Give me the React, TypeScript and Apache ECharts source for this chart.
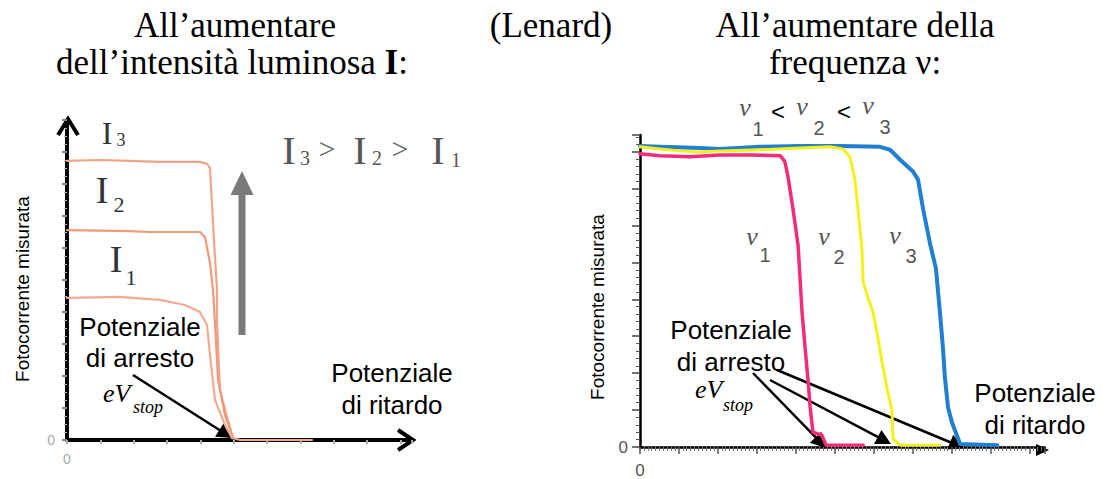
import React, { useEffect, useRef } from 'react';
import * as echarts from 'echarts';

// ---- Left panel data (retarding potential vs photocurrent, varying intensity) ----
const curveI3: number[][] = [
  [0, 8.72], [0.99, 8.75], [1.89, 8.72], [2.79, 8.69], [3.99, 8.69], [4.2, 8.63], [4.29, 8.5],
  [4.38, 6.78], [4.44, 5.72], [4.5, 4.69], [4.5, 3.66], [4.59, 1.56], [4.8, 0.72], [4.98, 0.06],
  [5.19, 0], [7.35, 0],
];
const curveI2: number[][] = [
  [0, 6.56], [1.89, 6.53], [2.49, 6.5], [3.99, 6.5], [4.14, 6.34], [4.29, 5.53], [4.38, 4.69],
  [4.44, 3.66], [4.53, 1.88], [4.74, 0.78], [4.98, 0.06],
];
const curveI1: number[][] = [
  [0, 4.44], [1.59, 4.47], [2.79, 4.38], [3.54, 4.22], [3.99, 4.0], [4.2, 3.59], [4.29, 2.66],
  [4.44, 1.25], [4.74, 0.47], [4.95, 0.06],
];

// ---- Right panel data (varying frequency) ----
const curveNu1: number[][] = [
  [0, 7.94], [0.51, 7.89], [1.28, 7.86], [2.05, 7.91], [2.82, 7.91], [3.6, 7.89], [3.72, 7.73],
  [3.8, 7.32], [3.93, 6.44], [4.06, 5.45], [4.16, 3.67], [4.24, 2.68], [4.31, 1.88], [4.37, 1.07],
  [4.44, 0.4], [4.67, 0.32], [4.78, 0.05], [5.73, 0.05],
];
const curveNu2: number[][] = [
  [0, 8.13], [0.51, 8.07], [1.03, 8.02], [1.54, 7.99], [2.05, 8.02], [3.08, 8.05], [4.11, 8.1],
  [4.88, 8.13], [5.21, 8.07], [5.39, 7.86], [5.52, 7.24], [5.6, 6.44], [5.7, 5.36], [5.73, 4.48],
  [5.86, 4.02], [5.98, 3.67], [6.11, 2.95], [6.21, 2.33], [6.34, 1.61], [6.47, 0.99], [6.5, 0.21],
  [6.68, 0.05], [7.7, 0.05],
];
const curveNu3: number[][] = [
  [0, 8.15], [0.51, 8.13], [1.54, 8.1], [2.05, 8.07], [3.08, 8.13], [4.11, 8.15], [5.14, 8.15],
  [6.16, 8.13], [6.42, 8.05], [6.68, 7.78], [7.01, 7.46], [7.14, 7.24], [7.27, 6.44], [7.45, 5.5],
  [7.6, 4.83], [7.7, 3.67], [7.78, 2.68], [7.83, 1.88], [7.91, 1.07], [8.01, 0.67], [8.22, 0.08],
  [9.17, 0.05],
];

const titleLeft1 = "All\u2019aumentare";
const titleLeft2a = "dell\u2019intensità luminosa ";
const titleLeft2b = "I";
const titleCenter = "(Lenard)";
const titleRight1 = "All\u2019aumentare della";
const titleRight2 = "frequenza \u03bd:";
const yTitle = "Fotocorrente misurata";

const SERIF = '"Liberation Serif", "Times New Roman", serif';
const SANS = '"Liberation Sans", Arial, sans-serif';

function arrowHead(x1: number, y1: number, x2: number, y2: number, len: number, hw: number) {
  const dx = x2 - x1, dy = y2 - y1;
  const d = Math.hypot(dx, dy);
  const ux = dx / d, uy = dy / d;
  const bx = x2 - ux * len, by = y2 - uy * len;
  return [[x2, y2], [bx - uy * hw, by + ux * hw], [bx + uy * hw, by - ux * hw]];
}

function arrow(x1: number, y1: number, x2: number, y2: number, w = 2.5, len = 15, hw = 8) {
  const head = arrowHead(x1, y1, x2, y2, len, hw);
  const d = Math.hypot(x2 - x1, y2 - y1);
  const ex = x2 - ((x2 - x1) / d) * (len - 2);
  const ey = y2 - ((y2 - y1) / d) * (len - 2);
  return [
    { type: 'line', shape: { x1, y1, x2: ex, y2: ey }, style: { stroke: '#000', lineWidth: w } },
    { type: 'polygon', shape: { points: head }, style: { fill: '#000' } },
  ];
}

function txt(text: string, x: number, y: number, font: string, fill = '#000', align = 'center', rotation = 0) {
  return {
    type: 'text', x, y, rotation,
    style: { text, font, fill, align, verticalAlign: 'middle' },
  };
}

export default function App() {
  const ref = useRef<HTMLDivElement>(null);
  useEffect(() => {
    if (!ref.current) return;
    const chart = echarts.init(ref.current, undefined, { renderer: 'svg' });

    const zeroOnly = (v: number) => (v === 0 ? '0' : '');

    const graphic: any[] = [
      // titles
      txt(titleLeft1, 235, 25, `35px ${SERIF}`),
      {
        type: 'text', x: 232, y: 62,
        style: {
          text: `{a|${titleLeft2a}}{b|${titleLeft2b}}{a|:}`,
          align: 'center', verticalAlign: 'middle',
          rich: {
            a: { font: `35px ${SERIF}`, fill: '#000' },
            b: { font: `bold 35px ${SERIF}`, fill: '#000' },
          },
        },
      },
      txt(titleCenter, 551, 25, `35px ${SERIF}`),
      txt(titleRight1, 855, 25, `35px ${SERIF}`),
      txt(titleRight2, 855, 62, `35px ${SERIF}`),

      // y titles
      txt(yTitle, 22, 289, `19px ${SANS}`, '#000', 'center', Math.PI / 2),
      txt(yTitle, 597, 307, `19px ${SANS}`, '#000', 'center', Math.PI / 2),

      // left panel axis chevrons
      { type: 'polyline', shape: { points: [[58, 135], [68, 119], [78, 135]] }, style: { stroke: '#000', lineWidth: 4, fill: 'none' } },
      { type: 'polyline', shape: { points: [[398, 430], [413, 440], [398, 450]] }, style: { stroke: '#000', lineWidth: 4, fill: 'none' } },
      // right panel x arrow
      { type: 'polygon', shape: { points: [[1049, 450], [1036, 444], [1036, 456]] }, style: { fill: '#000' } },

      // left labels I
      txt('I', 107, 133, `32px ${SERIF}`, '#333'),
      txt('3', 121, 140, `18px ${SERIF}`, '#333'),
      txt('I', 102, 190, `38px ${SERIF}`, '#333'),
      txt('2', 119, 204, `22px ${SERIF}`, '#333'),
      txt('I', 116, 259, `38px ${SERIF}`, '#333'),
      txt('1', 131, 277, `22px ${SERIF}`, '#333'),

      // I3 > I2 > I1
      txt('I', 289, 150, `40px ${SERIF}`, '#555'),
      txt('3', 305, 158, `20px ${SERIF}`, '#555'),
      txt('>', 327, 148, `30px ${SERIF}`, '#666'),
      txt('I', 360, 150, `40px ${SERIF}`, '#555'),
      txt('2', 377, 158, `20px ${SERIF}`, '#555'),
      txt('>', 400, 148, `30px ${SERIF}`, '#666'),
      txt('I', 438, 150, `40px ${SERIF}`, '#555'),
      txt('1', 456, 160, `20px ${SERIF}`, '#555'),

      // big gray arrow
      { type: 'rect', shape: { x: 238.5, y: 192, width: 7, height: 143 }, style: { fill: '#7a7a7a' } },
      { type: 'polygon', shape: { points: [[242, 171], [230.5, 195], [253.5, 195]] }, style: { fill: '#7a7a7a' } },

      // left annotations
      txt('Potenziale', 140, 327, `26px ${SANS}`),
      txt('di arresto', 140, 358, `26px ${SANS}`),
      txt('eV', 103, 393, `italic 26px ${SERIF}`, '#000', 'left'),
      txt('stop', 133, 407, `italic 18px ${SERIF}`, '#000', 'left'),
      ...arrow(133, 375, 232, 438),
      txt('Potenziale', 392, 373, `26px ${SANS}`),
      txt('di ritardo', 392, 405, `26px ${SANS}`),

      // right: nu ordering
      txt('\u03bd', 745, 107, `italic 26px ${SERIF}`, '#555'),
      txt('1', 758, 129, `20px ${SANS}`, '#555'),
      txt('<', 778, 111, `24px ${SANS}`, '#000'),
      txt('\u03bd', 802, 106, `italic 26px ${SERIF}`, '#555'),
      txt('2', 819, 128, `20px ${SANS}`, '#555'),
      txt('<', 844, 111, `24px ${SANS}`, '#000'),
      txt('\u03bd', 868, 105, `italic 26px ${SERIF}`, '#555'),
      txt('3', 885, 127, `20px ${SANS}`, '#555'),

      // right: curve labels
      txt('\u03bd', 752, 236, `italic 26px ${SERIF}`, '#555'),
      txt('1', 765, 255, `20px ${SANS}`, '#555'),
      txt('\u03bd', 824, 236, `italic 26px ${SERIF}`, '#555'),
      txt('2', 839, 257, `20px ${SANS}`, '#555'),
      txt('\u03bd', 895, 235, `italic 26px ${SERIF}`, '#555'),
      txt('3', 911, 256, `20px ${SANS}`, '#555'),

      // right annotations
      txt('Potenziale', 731, 330, `26px ${SANS}`),
      txt('di arresto', 731, 362, `26px ${SANS}`),
      txt('eV', 695, 389, `italic 26px ${SERIF}`, '#000', 'left'),
      txt('stop', 723, 405, `italic 18px ${SERIF}`, '#000', 'left'),
      ...arrow(753, 373, 826, 448),
      ...arrow(770, 380, 891, 444),
      ...arrow(777, 370, 964, 448),
      txt('Potenziale', 1035, 393, `26px ${SANS}`),
      txt('di ritardo', 1035, 425, `26px ${SANS}`),
    ];

    const lineSeries = (data: number[][], idx: number, color: string, width: number) => ({
      type: 'line', xAxisIndex: idx, yAxisIndex: idx, data, showSymbol: false, symbol: 'none',
      lineStyle: { color, width, join: 'round', cap: 'round' }, smooth: false, silent: true, clip: false,
    });

    chart.setOption({
      animation: false,
      backgroundColor: '#fff',
      grid: [
        { left: 67, top: 120, width: 345, height: 320 },
        { left: 640, top: 135, width: 405, height: 315 },
      ],
      xAxis: [
        {
          gridIndex: 0, type: 'value', min: 0, max: 10.35, interval: 1,
          axisLine: { show: true, lineStyle: { color: '#000', width: 4 } },
          axisTick: { show: true, length: 4, lineStyle: { color: '#aaa', width: 2 } },
          axisLabel: { formatter: zeroOnly, color: '#aaa', fontSize: 14, margin: 12, fontFamily: SANS },
          splitLine: { show: false },
        },
        {
          gridIndex: 1, type: 'value', min: 0, max: 10.4, interval: 1,
          axisLine: { show: true, lineStyle: { color: '#000', width: 2.5 } },
          axisTick: { show: true, length: 7, lineStyle: { color: '#555', width: 1.5 } },
          minorTick: { show: true, splitNumber: 10, length: 4, lineStyle: { color: '#777', width: 1 } },
          axisLabel: { formatter: zeroOnly, color: '#555', fontSize: 17, margin: 15, fontFamily: SANS },
          splitLine: { show: false },
        },
      ],
      yAxis: [
        {
          gridIndex: 0, type: 'value', min: 0, max: 10, interval: 1,
          axisLine: { show: true, lineStyle: { color: '#000', width: 4 } },
          axisTick: { show: true, length: 5, lineStyle: { color: '#888', width: 2 } },
          minorTick: { show: true, splitNumber: 4, length: 3, lineStyle: { color: '#bbb', width: 1 } },
          axisLabel: { formatter: zeroOnly, color: '#aaa', fontSize: 14, margin: 12, fontFamily: SANS },
          splitLine: { show: false },
        },
        {
          gridIndex: 1, type: 'value', min: 0, max: 8.45, interval: 1,
          axisLine: { show: true, lineStyle: { color: '#000', width: 2.5 } },
          axisTick: { show: true, length: 8, lineStyle: { color: '#444', width: 1.5 } },
          minorTick: { show: true, splitNumber: 5, length: 4, lineStyle: { color: '#555', width: 1 } },
          axisLabel: { formatter: zeroOnly, color: '#555', fontSize: 17, margin: 12, fontFamily: SANS },
          splitLine: { show: false },
        },
      ],
      series: [
        lineSeries(curveI3, 0, '#f2a488', 2.2),
        lineSeries(curveI2, 0, '#f09a7c', 2.2),
        lineSeries(curveI1, 0, '#f3aa90', 2.2),
        lineSeries(curveNu3, 1, '#1f7fd0', 4),
        lineSeries(curveNu2, 1, '#f5f01c', 3),
        lineSeries(curveNu1, 1, '#f52c7a', 3.5),
      ],
      graphic,
    });
    return () => chart.dispose();
  }, []);

  return (
    <div
      ref={ref}
      style={{ position: 'fixed', left: 0, top: 0, width: 1113, height: 479, background: '#fff' }}
    />
  );
}
